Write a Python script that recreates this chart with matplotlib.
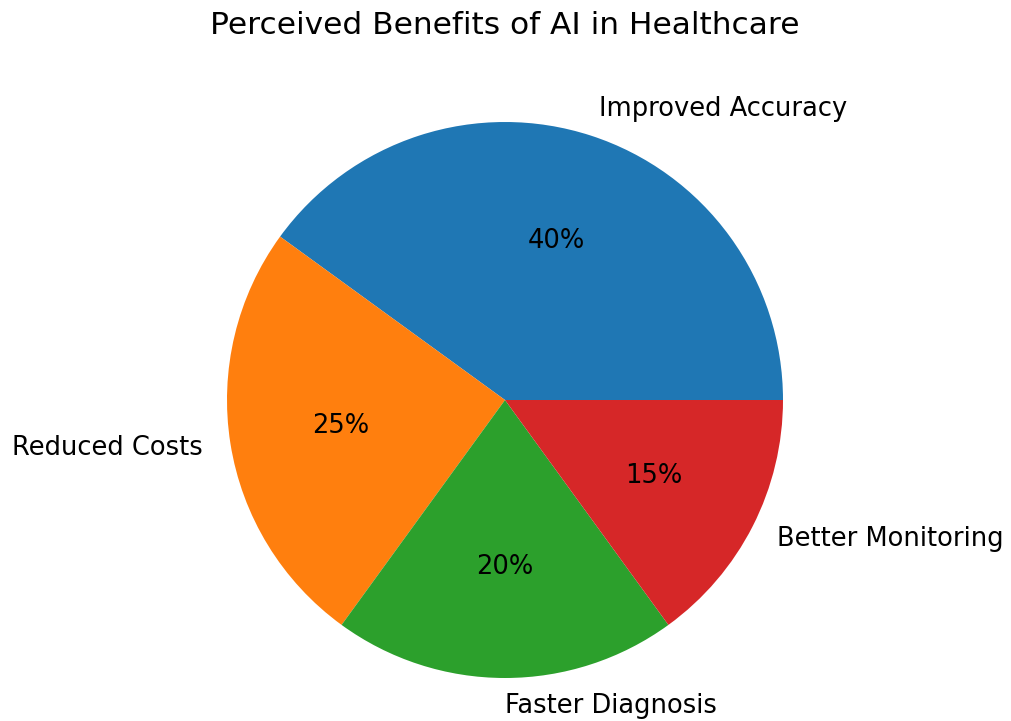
import matplotlib
matplotlib.use("Agg")
import matplotlib.pyplot as plt

labels = ["Improved Accuracy", "Reduced Costs", "Faster Diagnosis", "Better Monitoring"]
shares = [40, 25, 20, 15]
colors = ["#1f77b4", "#ff7f0e", "#2ca02c", "#d62728"]

fig = plt.figure(figsize=(10.11, 7.21), dpi=100)
# pie centre ~ (505, 400) px, radius ~278 px
ax = fig.add_axes([(505 - 278) / 1011, (321 - 278) / 721, 556 / 1011, 556 / 721])

wedges, texts, autotexts = ax.pie(shares, labels=labels, colors=colors,
                                  autopct="%1.0f%%", textprops={"fontsize": 18.5})
ax.set_xlim(-1, 1)
ax.set_ylim(-1, 1)
ax.set_aspect("equal")

fig.text(505 / 1011, 1 - 25 / 721, "Perceived Benefits of AI in Healthcare",
         ha="center", va="center", fontsize=22.5)

fig.savefig("out.png", dpi=100)
